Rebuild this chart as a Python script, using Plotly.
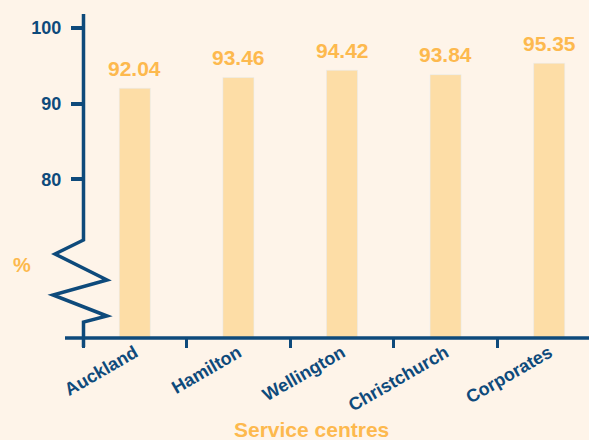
import plotly.graph_objects as go

categories = ["Auckland", "Hamilton", "Wellington", "Christchurch", "Corporates"]
values = [92.04, 93.46, 94.42, 93.84, 95.35]
y_ticks = [80, 90, 100]

NAVY = "#0E4A7B"
BAR = "#FDDDA6"
ORANGE = "#FDB94E"
BG = "#FEF4E9"
FONT = "Liberation Sans, Arial, sans-serif"

W, H = 589, 440
L, R, T, B = 83, 0, 14, 102
PW, PH = W - L - R, H - T - B

def px(x):
    return (x - L) / PW

def py(y):
    return (H - B - y) / PH

fig = go.Figure()
fig.add_trace(go.Bar(
    x=categories, y=values, marker_color=BAR, width=0.3,
    hoverinfo="skip", showlegend=False,
))

for c, v in zip(categories, values):
    fig.add_annotation(x=c, y=v, text=f"<b>{v:.2f}</b>", showarrow=False,
                       yshift=20, yanchor="middle", xanchor="center",
                       font=dict(family=FONT, size=21, color=ORANGE))

# broken y axis line with zigzag
pts = [(83.5, 14), (83.5, 240), (55, 254), (107, 280), (53, 295), (107, 316), (83.5, 322), (83.5, 347)]
path = "M " + " L ".join(f"{px(a):.5f},{py(b):.5f}" for a, b in pts)
fig.add_shape(type="path", path=path, xref="paper", yref="paper",
              line=dict(color=NAVY, width=3.5), layer="above")
# x axis line
fig.add_shape(type="line", xref="paper", yref="paper", x0=px(65), x1=1.0, y0=0, y1=0,
              line=dict(color=NAVY, width=3.5), layer="above")

fig.add_annotation(text="<b>%</b>", x=px(22), y=py(265), xref="paper", yref="paper",
                   showarrow=False, xanchor="center", yanchor="middle",
                   font=dict(family=FONT, size=20, color=ORANGE))
fig.add_annotation(text="<b>Service centres</b>", x=px(311), y=py(429), xref="paper", yref="paper",
                   showarrow=False, xanchor="center", yanchor="middle",
                   font=dict(family=FONT, size=21, color=ORANGE))

fig.update_layout(
    width=W, height=H,
    margin=dict(l=L, r=R, t=T, b=B),
    paper_bgcolor=BG, plot_bgcolor=BG,
    font=dict(family=FONT, color=NAVY),
    bargap=0.7,
    xaxis=dict(
        type="category", range=[-0.5, -0.5 + PW / 103.6],
        tickson="boundaries", ticks="outside", ticklen=9, tickwidth=2.5, tickcolor=NAVY,
        tickangle=-30, showgrid=False, showline=False, zeroline=False,
        tickfont=dict(family=FONT, size=18, color=NAVY),
        tickvals=categories, ticktext=[f"<b>{c}</b>" for c in categories],
    ),
    yaxis=dict(
        range=[59.06, 101.85], tickvals=y_ticks, ticktext=[f"<b>{t}</b>" for t in y_ticks],
        ticks="outside", ticklen=11, tickwidth=3.5, tickcolor=NAVY,
        showgrid=False, showline=False, zeroline=False, ticklabelstandoff=6,
        tickfont=dict(family=FONT, size=18, color=NAVY),
    ),
)

fig.write_html("out.html")
